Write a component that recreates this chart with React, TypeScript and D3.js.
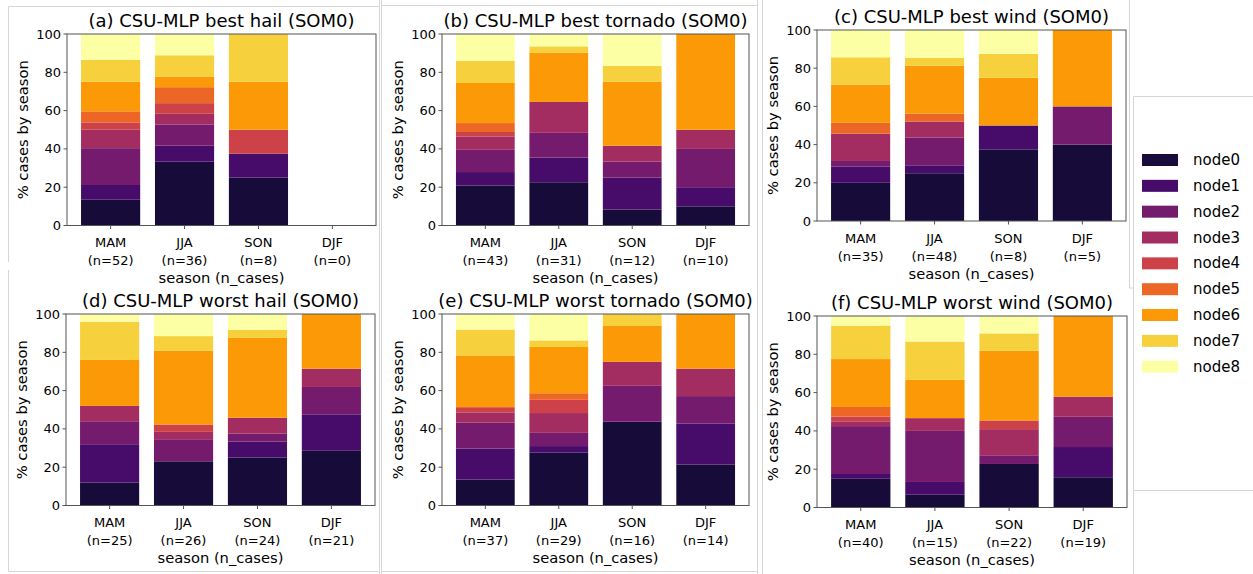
import React from "react";
import * as d3 from "d3";

const SEASONS = ["MAM", "JJA", "SON", "DJF"];
const NODES = ["node0", "node1", "node2", "node3", "node4", "node5", "node6", "node7", "node8"];
const Y_TICKS = [0, 20, 40, 60, 80, 100];

// counts per season (rows: MAM, JJA, SON, DJF; columns: node0..node8)
const bestHail = [
  [7, 4, 10, 5, 2, 3, 8, 6, 7],
  [12, 3, 4, 2, 2, 3, 2, 4, 4],
  [2, 1, 0, 0, 1, 0, 2, 2, 0],
  [0, 0, 0, 0, 0, 0, 0, 0, 0],
];
const bestTornado = [
  [9, 3, 5, 3, 1, 2, 9, 5, 6],
  [7, 4, 4, 5, 0, 0, 8, 1, 2],
  [1, 2, 1, 1, 0, 0, 4, 1, 2],
  [1, 1, 2, 1, 0, 0, 5, 0, 0],
];
const bestWind = [
  [7, 3, 1, 5, 0, 2, 7, 5, 5],
  [12, 2, 7, 4, 0, 2, 12, 2, 7],
  [3, 1, 0, 0, 0, 0, 2, 1, 1],
  [2, 0, 1, 0, 0, 0, 2, 0, 0],
];
const worstHail = [
  [3, 5, 3, 2, 0, 0, 6, 5, 1],
  [6, 0, 3, 1, 1, 0, 10, 2, 3],
  [6, 2, 1, 2, 0, 0, 10, 1, 2],
  [6, 4, 3, 2, 0, 0, 6, 0, 0],
];
const worstTornado = [
  [5, 6, 5, 2, 1, 0, 10, 5, 3],
  [8, 1, 2, 3, 2, 1, 7, 1, 4],
  [7, 0, 3, 2, 0, 0, 3, 1, 0],
  [3, 3, 2, 2, 0, 0, 4, 0, 0],
];
const worstWind = [
  [6, 1, 10, 1, 1, 2, 10, 7, 2],
  [1, 1, 4, 1, 0, 0, 3, 3, 2],
  [5, 0, 1, 3, 1, 0, 8, 2, 2],
  [3, 3, 3, 2, 0, 0, 8, 0, 0],
];

const TITLES = [
  "(a) CSU-MLP best hail (SOM0)",
  "(b) CSU-MLP best tornado (SOM0)",
  "(c) CSU-MLP best wind (SOM0)",
  "(d) CSU-MLP worst hail (SOM0)",
  "(e) CSU-MLP worst tornado (SOM0)",
  "(f) CSU-MLP worst wind (SOM0)",
];
const PANEL_DATA = [bestHail, bestTornado, bestWind, worstHail, worstTornado, worstWind];

const BOXES = [
  { left: 67, right: 376, top: 34, bottom: 225.5 },
  { left: 442, right: 749, top: 34, bottom: 225.5 },
  { left: 817, right: 1126, top: 30, bottom: 221 },
  { left: 66, right: 375, top: 314, bottom: 505.5 },
  { left: 442, right: 749, top: 314, bottom: 505.5 },
  { left: 817, right: 1127, top: 316, bottom: 507.5 },
];

const FONT = "'DejaVu Sans', sans-serif";
const color = (i: number) => d3.interpolateInferno(0.1 + i * 0.1125);
const SPINE = "#555";
const FRAME = "#d6d6d6";

function Panel({ title, counts, box }: any) {
  const { left, right, top, bottom } = box;
  const x = d3.scaleLinear().domain([-0.59, 3.59]).range([left, right]);
  const y = d3.scaleLinear().domain([0, 100]).range([bottom, top]);
  const rows = counts.map((c: number[], i: number) => {
    const n = d3.sum(c);
    const o: any = { season: SEASONS[i], n };
    NODES.forEach((k, j) => (o[k] = n ? (c[j] / n) * 100 : 0));
    return o;
  });
  const series = d3.stack().keys(NODES)(rows);
  const cx = (left + right) / 2;
  const cy = (top + bottom) / 2;
  return (
    <g>
      {series.map((s: any, j: number) =>
        s.map((d: any, i: number) => {
          const h = y(d[0]) - y(d[1]);
          if (h <= 0.01) return null;
          return (
            <rect
              key={`${j}-${i}`}
              x={x(i - 0.4)}
              width={x(i + 0.4) - x(i - 0.4)}
              y={y(d[1])}
              height={h}
              fill={color(j)}
            />
          );
        })
      )}
      <rect x={left} y={top} width={right - left} height={bottom - top} fill="none" stroke={SPINE} strokeWidth={1} />
      {Y_TICKS.map((t) => (
        <g key={t}>
          <line x1={left - 3.5} x2={left} y1={y(t)} y2={y(t)} stroke={SPINE} />
          <text x={left - 6} y={y(t)} textAnchor="end" dominantBaseline="central" fontSize={13} fontFamily={FONT}>
            {t}
          </text>
        </g>
      ))}
      {rows.map((r: any, i: number) => (
        <g key={r.season}>
          <line x1={x(i)} x2={x(i)} y1={bottom} y2={bottom + 3.5} stroke={SPINE} />
          <text x={x(i)} y={bottom + 17} textAnchor="middle" dominantBaseline="central" fontSize={13} fontFamily={FONT}>
            {r.season}
          </text>
          <text x={x(i)} y={bottom + 35} textAnchor="middle" dominantBaseline="central" fontSize={13} fontFamily={FONT}>
            {`(n=${r.n})`}
          </text>
        </g>
      ))}
      <text x={cx} y={bottom + 52} textAnchor="middle" dominantBaseline="central" fontSize={14.7} fontFamily={FONT}>
        season (n_cases)
      </text>
      <text
        transform={`translate(${left - 45},${cy}) rotate(-90)`}
        textAnchor="middle"
        dominantBaseline="central"
        fontSize={14.7}
        fontFamily={FONT}
      >
        % cases by season
      </text>
      <text x={cx} y={top - 7} textAnchor="middle" fontSize={18} fontFamily={FONT}>
        {title}
      </text>
    </g>
  );
}

function Legend() {
  const y = d3.scalePoint().domain(NODES).range([160, 366.7]);
  return (
    <g>
      {NODES.map((n, i) => (
        <g key={n}>
          <rect x={1142} y={(y(n) as number) - 6} width={36} height={12} fill={color(i)} />
          <text x={1193} y={y(n)} dominantBaseline="central" fontSize={15} fontFamily={FONT}>
            {n}
          </text>
        </g>
      ))}
    </g>
  );
}

export default function App() {
  return (
    <svg
      width={1253}
      height={574}
      style={{ position: "absolute", left: 0, top: 0, background: "#fff" }}
    >
      <rect width={1253} height={574} fill="#fff" />
      {/* image frames */}
      <g stroke={FRAME} strokeWidth={1} fill="none">
        <path d="M8.5,262 V6.5 H379" />
        <path d="M8.5,270 V571.5 H379" />
        <path d="M379.5,0 V574" />
        <path d="M381.5,0 V574" />
        <path d="M381.5,5.5 H757" />
        <path d="M381.5,571.5 H757" />
        <path d="M757.5,0 V574" />
        <path d="M762.5,0 V574" />
        <path d="M1129.5,0 V288 H1133" />
        <path d="M1253,96.5 H1133.5 V490.5 H1253" />
        <path d="M1253,490.5 H1133.5 V574" />
      </g>
      {PANEL_DATA.map((c, i) => (
        <Panel key={i} title={TITLES[i]} counts={c} box={BOXES[i]} />
      ))}
      <Legend />
    </svg>
  );
}
